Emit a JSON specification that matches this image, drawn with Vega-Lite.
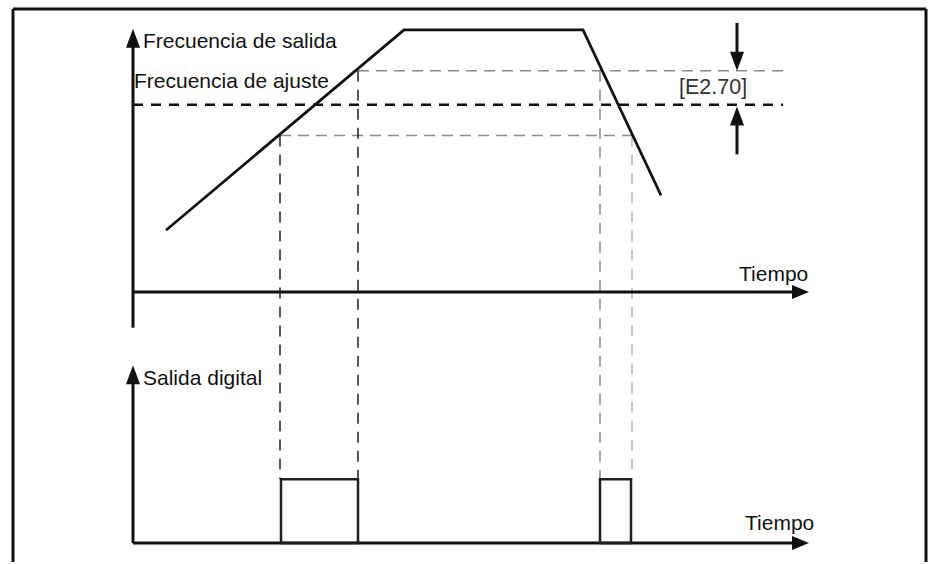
{
  "$schema": "https://vega.github.io/schema/vega-lite/v6.json",
  "autosize": {"type": "fit", "contains": "padding"},
  "width": 933,
  "height": 564,
  "padding": 0,
  "background": "white",
  "config": {"view": {"stroke": null}},
  "datasets": {
    "segments": [
      {"role": "frame", "x": 13, "y": 564, "x2": 13, "y2": 9},
      {"role": "frame", "x": 13, "y": 9, "x2": 926, "y2": 9},
      {"role": "frame", "x": 926, "y": 9, "x2": 926, "y2": 564},
      {"role": "axis", "x": 133, "y": 40, "x2": 133, "y2": 329},
      {"role": "axis", "x": 133, "y": 293, "x2": 796, "y2": 293},
      {"role": "axis", "x": 133, "y": 378, "x2": 133, "y2": 545},
      {"role": "axis", "x": 133, "y": 545, "x2": 796, "y2": 545},
      {"role": "marker", "x": 737, "y": 23, "x2": 737, "y2": 58},
      {"role": "marker", "x": 737, "y": 122, "x2": 737, "y2": 155},
      {"role": "setpoint", "x": 133, "y": 105, "x2": 783, "y2": 105},
      {"role": "band", "x": 358, "y": 71, "x2": 783, "y2": 71},
      {"role": "band", "x": 280, "y": 136, "x2": 632, "y2": 136},
      {"role": "rise", "x": 280, "y": 136, "x2": 280, "y2": 481},
      {"role": "rise", "x": 358, "y": 71, "x2": 358, "y2": 481},
      {"role": "fall", "x": 600, "y": 71, "x2": 600, "y2": 481},
      {"role": "fall2", "x": 632, "y": 136, "x2": 632, "y2": 481}
    ],
    "frequency": [
      {"seq": 1, "t": 166, "f": 231},
      {"seq": 2, "t": 404, "f": 30},
      {"seq": 3, "t": 583, "f": 30},
      {"seq": 4, "t": 661, "f": 196}
    ],
    "pulses": [
      {"start": 281, "end": 358, "top": 481, "base": 545},
      {"start": 600, "end": 631, "top": 481, "base": 545}
    ],
    "heads": [
      {"dir": "up", "x": 133, "y": 38.5},
      {"dir": "up", "x": 133, "y": 376},
      {"dir": "up", "x": 737, "y": 116.5},
      {"dir": "down", "x": 737, "y": 61.5},
      {"dir": "right", "x": 800.5, "y": 293},
      {"dir": "right", "x": 800.5, "y": 545}
    ],
    "labels": [
      {"role": "main", "text": "Frecuencia de salida", "x": 143, "y": 42},
      {"role": "main", "text": "Frecuencia de ajuste", "x": 134, "y": 82},
      {"role": "param", "text": "[E2.70]", "x": 679, "y": 88},
      {"role": "main", "text": "Tiempo", "x": 739, "y": 276},
      {"role": "main", "text": "Salida digital", "x": 143, "y": 380},
      {"role": "main", "text": "Tiempo", "x": 745, "y": 526}
    ]
  },
  "layer": [
    {
      "data": {"name": "segments"},
      "transform": [{"filter": "datum.role === 'band'"}],
      "mark": {"type": "rule", "stroke": "#8a8a8a", "strokeWidth": 1.5, "strokeDash": [11, 7]},
      "encoding": {
        "x": {"field": "x", "type": "quantitative", "scale": {"domain": [0, 933], "nice": false, "zero": false}, "axis": null},
        "y": {"field": "y", "type": "quantitative", "scale": {"domain": [0, 564], "nice": false, "zero": false, "reverse": true}, "axis": null},
        "x2": {"field": "x2"},
        "y2": {"field": "y2"}
      }
    },
    {
      "data": {"name": "segments"},
      "transform": [{"filter": "datum.role === 'rise'"}],
      "mark": {"type": "rule", "stroke": "#222222", "strokeWidth": 1.5, "strokeDash": [11, 8]},
      "encoding": {
        "x": {"field": "x", "type": "quantitative"},
        "y": {"field": "y", "type": "quantitative"},
        "x2": {"field": "x2"},
        "y2": {"field": "y2"}
      }
    },
    {
      "data": {"name": "segments"},
      "transform": [{"filter": "datum.role === 'fall'"}],
      "mark": {"type": "rule", "stroke": "#8a8a8a", "strokeWidth": 1.5, "strokeDash": [11, 8]},
      "encoding": {
        "x": {"field": "x", "type": "quantitative"},
        "y": {"field": "y", "type": "quantitative"},
        "x2": {"field": "x2"},
        "y2": {"field": "y2"}
      }
    },
    {
      "data": {"name": "segments"},
      "transform": [{"filter": "datum.role === 'fall2'"}],
      "mark": {"type": "rule", "stroke": "#b5b5b5", "strokeWidth": 1.5, "strokeDash": [11, 8]},
      "encoding": {
        "x": {"field": "x", "type": "quantitative"},
        "y": {"field": "y", "type": "quantitative"},
        "x2": {"field": "x2"},
        "y2": {"field": "y2"}
      }
    },
    {
      "data": {"name": "segments"},
      "transform": [{"filter": "datum.role === 'setpoint'"}],
      "mark": {"type": "rule", "stroke": "#111111", "strokeWidth": 2.5, "strokeDash": [10, 8]},
      "encoding": {
        "x": {"field": "x", "type": "quantitative"},
        "y": {"field": "y", "type": "quantitative"},
        "x2": {"field": "x2"},
        "y2": {"field": "y2"}
      }
    },
    {
      "data": {"name": "segments"},
      "transform": [{"filter": "datum.role === 'frame' || datum.role === 'axis' || datum.role === 'marker'"}],
      "mark": {"type": "rule", "stroke": "#111111", "strokeWidth": 3},
      "encoding": {
        "x": {"field": "x", "type": "quantitative"},
        "y": {"field": "y", "type": "quantitative"},
        "x2": {"field": "x2"},
        "y2": {"field": "y2"}
      }
    },
    {
      "data": {"name": "frequency"},
      "mark": {"type": "line", "stroke": "#111111", "strokeWidth": 2.7, "strokeCap": "butt", "strokeJoin": "miter"},
      "encoding": {
        "x": {"field": "t", "type": "quantitative"},
        "y": {"field": "f", "type": "quantitative"},
        "order": {"field": "seq", "type": "quantitative"}
      }
    },
    {
      "data": {"name": "pulses"},
      "mark": {"type": "rect", "fill": null, "fillOpacity": 0, "stroke": "#231f20", "strokeWidth": 2.5},
      "encoding": {
        "x": {"field": "start", "type": "quantitative"},
        "x2": {"field": "end"},
        "y": {"field": "top", "type": "quantitative"},
        "y2": {"field": "base"}
      }
    },
    {
      "data": {"name": "heads"},
      "transform": [{"filter": "datum.dir === 'up'"}],
      "mark": {"type": "point", "shape": "M0,-1L0.74,1L-0.74,1Z", "size": 361, "filled": true, "fill": "#111111", "opacity": 1, "strokeWidth": 0},
      "encoding": {
        "x": {"field": "x", "type": "quantitative"},
        "y": {"field": "y", "type": "quantitative"}
      }
    },
    {
      "data": {"name": "heads"},
      "transform": [{"filter": "datum.dir === 'down'"}],
      "mark": {"type": "point", "shape": "M0,1L0.74,-1L-0.74,-1Z", "size": 361, "filled": true, "fill": "#111111", "opacity": 1, "strokeWidth": 0},
      "encoding": {
        "x": {"field": "x", "type": "quantitative"},
        "y": {"field": "y", "type": "quantitative"}
      }
    },
    {
      "data": {"name": "heads"},
      "transform": [{"filter": "datum.dir === 'right'"}],
      "mark": {"type": "point", "shape": "M1,0L-1,0.82L-1,-0.82Z", "size": 289, "filled": true, "fill": "#111111", "opacity": 1, "strokeWidth": 0},
      "encoding": {
        "x": {"field": "x", "type": "quantitative"},
        "y": {"field": "y", "type": "quantitative"}
      }
    },
    {
      "data": {"name": "labels"},
      "transform": [{"filter": "datum.role === 'main'"}],
      "mark": {"type": "text", "align": "left", "baseline": "middle", "font": "Liberation Sans", "fontSize": 21, "fill": "#111111"},
      "encoding": {
        "x": {"field": "x", "type": "quantitative"},
        "y": {"field": "y", "type": "quantitative"},
        "text": {"field": "text", "type": "nominal"}
      }
    },
    {
      "data": {"name": "labels"},
      "transform": [{"filter": "datum.role === 'param'"}],
      "mark": {"type": "text", "align": "left", "baseline": "middle", "font": "Liberation Sans", "fontSize": 21.5, "fill": "#333333"},
      "encoding": {
        "x": {"field": "x", "type": "quantitative"},
        "y": {"field": "y", "type": "quantitative"},
        "text": {"field": "text", "type": "nominal"}
      }
    }
  ]
}
